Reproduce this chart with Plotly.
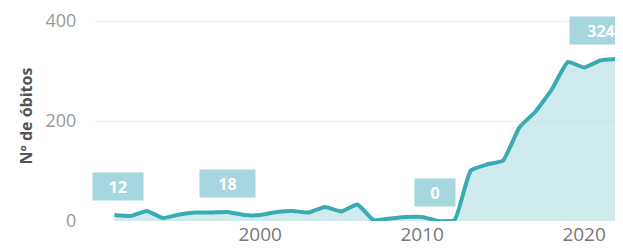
import plotly.graph_objects as go

years = list(range(1991, 2023))
deaths = [12, 10, 20, 6, 13, 17, 17, 18, 12, 12, 18, 20, 17, 28, 19, 33, 2, 5, 8, 8,
          0, 2, 101, 113, 121, 187, 219, 263, 318, 307, 321, 324]

label_years = [1991, 1998, 2011, 2022]
label_values = [12, 18, 0, 324]
label_widths = [50, 55, 40, 62]
label_xshift = [4, 0, -3, -16]

line_color = "#3aabb5"
fill_color = "rgba(168,218,224,0.55)"
box_color = "#a6d6de"

fig = go.Figure()
fig.add_trace(go.Scatter(
    x=years, y=deaths, mode="lines",
    line=dict(color=line_color, width=4, shape="spline", smoothing=0.4),
    fill="tozeroy", fillcolor=fill_color,
    hoverinfo="skip", showlegend=False,
))

for yr, v, w, xs in zip(label_years, label_values, label_widths, label_xshift):
    fig.add_annotation(
        x=yr, y=v, text="<b>%d</b>" % v, showarrow=False,
        xanchor="center", yanchor="bottom", yshift=14, xshift=xs,
        bgcolor=box_color, borderpad=3, width=w - 6, height=21,
        font=dict(family="Open Sans", size=16, color="white"),
    )

# page body adds an 8px margin, so the figure is sized to the visible area
fig.update_layout(
    width=615, height=241,
    margin=dict(l=87, r=0, t=3, b=28),
    paper_bgcolor="white", plot_bgcolor="white",
    font=dict(family="Open Sans"),
    xaxis=dict(
        range=[1989.8, 2022.4], tickvals=[2000, 2010, 2020],
        showgrid=False, zeroline=False, showline=False,
        ticks="", automargin=False,
        tickfont=dict(size=19, color="#777777"),
    ),
    yaxis=dict(
        range=[0, 420], tickvals=[0, 200, 400],
        showgrid=True, gridcolor="#eeeeee", gridwidth=1,
        zeroline=False, showline=False, automargin=False,
        ticks="outside", ticklen=14, tickcolor="rgba(0,0,0,0)",
        tickfont=dict(size=18, color="#999999"),
        title=dict(text="<b>Nº de óbitos</b>", standoff=8,
                   font=dict(size=16, color="#555555")),
    ),
)

fig.write_html("out.html")
